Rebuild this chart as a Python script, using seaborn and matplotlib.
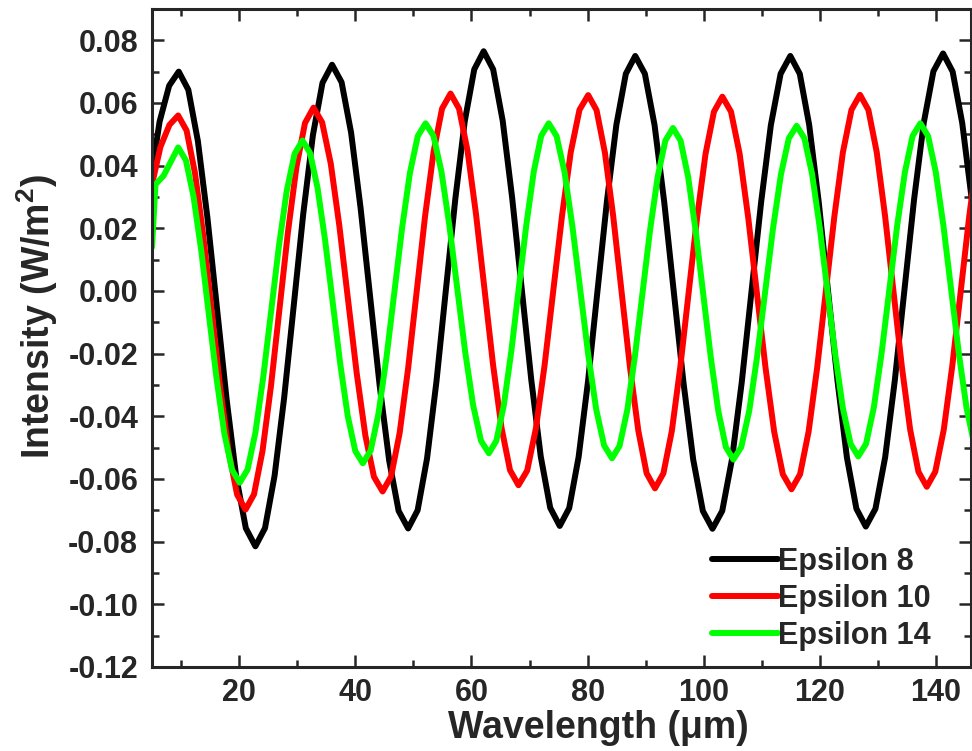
import pandas as pd
import matplotlib
matplotlib.use("Agg")
import matplotlib.pyplot as plt
import seaborn as sns

# values (x in um, intensity in W/m^2)
eps8_x = [5.0, 6.3, 7.95, 9.6, 11.25, 12.9, 14.55, 16.2, 17.85, 19.5, 21.15, 22.8,
          24.45, 26.1, 27.75, 29.4, 31.05, 32.7, 34.35, 36.0,
          37.64, 39.28, 40.91, 42.55, 44.19, 45.83, 47.46, 49.1,
          50.73, 52.35, 53.98, 55.6, 57.23, 58.85, 60.48, 62.1,
          63.74, 65.38, 67.01, 68.65, 70.29, 71.93, 73.56, 75.2,
          76.83, 78.45, 80.08, 81.7, 83.33, 84.95, 86.58, 88.2,
          89.86, 91.53, 93.19, 94.85, 96.51, 98.18, 99.84, 101.5,
          103.18, 104.85, 106.53, 108.2, 109.88, 111.55, 113.23, 114.9,
          116.53, 118.15, 119.78, 121.4, 123.03, 124.65, 126.28, 127.9,
          129.56, 131.23, 132.89, 134.55, 136.21, 137.88, 139.54, 141.2,
          142.85, 144.5, 146.15]
eps8_y = [0.038, 0.054, 0.0655, 0.0700, 0.0642, 0.0478, 0.0232, -0.0058, -0.0347, -0.0593, -0.0757, -0.0815,
          -0.0757, -0.0590, -0.0341, -0.0047, 0.0248, 0.0497, 0.0664, 0.0722,
          0.0666, 0.0505, 0.0265, -0.0018, -0.0301, -0.0541, -0.0702, -0.0758,
          -0.0700, -0.0535, -0.0288, 0.0004, 0.0295, 0.0542, 0.0707, 0.0765,
          0.0707, 0.0543, 0.0297, 0.0008, -0.0282, -0.0528, -0.0692, -0.0750,
          -0.0693, -0.0530, -0.0287, 0.0000, 0.0287, 0.0530, 0.0693, 0.0750,
          0.0693, 0.0529, 0.0284, -0.0005, -0.0293, -0.0538, -0.0702, -0.0759,
          -0.0702, -0.0538, -0.0293, -0.0005, 0.0284, 0.0529, 0.0693, 0.0750,
          0.0693, 0.0530, 0.0286, -0.0001, -0.0288, -0.0532, -0.0695, -0.0752,
          -0.0695, -0.0531, -0.0286, 0.0003, 0.0292, 0.0537, 0.0701, 0.0758,
          0.0700, 0.0536, 0.0291]

eps10_x = [5.0, 6.45, 8.0, 9.5, 10.95, 12.4, 13.85, 15.3, 16.75, 18.2, 19.65, 21.1,
           22.56, 24.03, 25.49, 26.95, 28.41, 29.88, 31.34, 32.8,
           34.29, 35.78, 37.26, 38.75, 40.24, 41.73, 43.21, 44.7,
           46.16, 47.63, 49.09, 50.55, 52.01, 53.48, 54.94, 56.4,
           57.86, 59.33, 60.79, 62.25, 63.71, 65.18, 66.64, 68.1,
           69.6, 71.1, 72.6, 74.1, 75.6, 77.1, 78.6, 80.1,
           81.54, 82.98, 84.41, 85.85, 87.29, 88.73, 90.16, 91.6,
           93.05, 94.5, 95.95, 97.4, 98.85, 100.3, 101.75, 103.2,
           104.69, 106.18, 107.66, 109.15, 110.64, 112.13, 113.61, 115.1,
           116.58, 118.05, 119.53, 121.0, 122.48, 123.95, 125.43, 126.9,
           128.34, 129.78, 131.21, 132.65, 134.09, 135.53, 136.96, 138.4,
           139.86, 141.33, 142.79, 144.25, 145.71, 147.18]
eps10_y = [0.034, 0.046, 0.053, 0.0560, 0.0512, 0.0376, 0.0172, -0.0069, -0.0310, -0.0514, -0.0650, -0.0698,
           -0.0649, -0.0510, -0.0302, -0.0057, 0.0189, 0.0397, 0.0536, 0.0585,
           0.0538, 0.0406, 0.0207, -0.0028, -0.0262, -0.0461, -0.0593, -0.0640,
           -0.0592, -0.0454, -0.0248, -0.0005, 0.0238, 0.0444, 0.0582, 0.0630,
           0.0582, 0.0447, 0.0244, 0.0005, -0.0234, -0.0437, -0.0572, -0.0620,
           -0.0573, -0.0438, -0.0236, 0.0003, 0.0241, 0.0443, 0.0578, 0.0625,
           0.0577, 0.0441, 0.0238, -0.0003, -0.0243, -0.0446, -0.0582, -0.0630,
           -0.0582, -0.0447, -0.0244, -0.0005, 0.0234, 0.0437, 0.0572, 0.0620,
           0.0572, 0.0437, 0.0233, -0.0007, -0.0246, -0.0450, -0.0585, -0.0633,
           -0.0585, -0.0449, -0.0244, -0.0004, 0.0237, 0.0442, 0.0578, 0.0626,
           0.0578, 0.0443, 0.0240, 0.0001, -0.0239, -0.0442, -0.0577, -0.0625,
           -0.0577, -0.0442, -0.0239, 0.0000, 0.0239, 0.0442]

eps14_x = [5.0, 5.6, 7.0, 9.5, 10.83, 12.15, 13.48, 14.8, 16.13, 17.45, 18.78, 20.1,
           21.45, 22.8, 24.15, 25.5, 26.85, 28.2, 29.55, 30.9,
           32.2, 33.5, 34.8, 36.1, 37.4, 38.7, 40.0, 41.3,
           42.65, 44.0, 45.35, 46.7, 48.05, 49.4, 50.75, 52.1,
           53.46, 54.83, 56.19, 57.55, 58.91, 60.28, 61.64, 63.0,
           64.29, 65.58, 66.86, 68.15, 69.44, 70.73, 72.01, 73.3,
           74.66, 76.03, 77.39, 78.75, 80.11, 81.48, 82.84, 84.2,
           85.51, 86.83, 88.14, 89.45, 90.76, 92.08, 93.39, 94.7,
           96.0, 97.3, 98.6, 99.9, 101.2, 102.5, 103.8, 105.1,
           106.46, 107.83, 109.19, 110.55, 111.91, 113.28, 114.64, 116.0,
           117.33, 118.65, 119.98, 121.3, 122.63, 123.95, 125.28, 126.6,
           127.94, 129.28, 130.61, 131.95, 133.29, 134.63, 135.96, 137.3,
           138.63, 139.95, 141.28, 142.6, 143.93, 145.25, 146.58]
eps14_y = [0.014, 0.034, 0.0368, 0.0458, 0.0417, 0.0301, 0.0128, -0.0077, -0.0282, -0.0455, -0.0571, -0.0612,
           -0.0570, -0.0452, -0.0275, -0.0066, 0.0143, 0.0320, 0.0438, 0.0480,
           0.0441, 0.0329, 0.0162, -0.0035, -0.0232, -0.0399, -0.0511, -0.0550,
           -0.0509, -0.0391, -0.0215, -0.0008, 0.0200, 0.0376, 0.0494, 0.0535,
           0.0495, 0.0381, 0.0210, 0.0009, -0.0193, -0.0364, -0.0478, -0.0518,
           -0.0478, -0.0364, -0.0193, 0.0009, 0.0210, 0.0381, 0.0495, 0.0535,
           0.0494, 0.0379, 0.0205, 0.0001, -0.0204, -0.0378, -0.0493, -0.0534,
           -0.0494, -0.0380, -0.0209, -0.0007, 0.0195, 0.0366, 0.0480, 0.0520,
           0.0480, 0.0365, 0.0193, -0.0009, -0.0211, -0.0383, -0.0498, -0.0538,
           -0.0498, -0.0382, -0.0209, -0.0006, 0.0198, 0.0371, 0.0487, 0.0527,
           0.0487, 0.0373, 0.0201, -0.0001, -0.0202, -0.0374, -0.0488, -0.0528,
           -0.0488, -0.0372, -0.0200, 0.0004, 0.0207, 0.0379, 0.0495, 0.0535,
           0.0494, 0.0379, 0.0206, 0.0003, -0.0201, -0.0374, -0.0490]

labels = ["Epsilon 8", "Epsilon 10", "Epsilon 14"]
colors = ["#000000", "#ff0000", "#00ff00"]
xticks = [20, 40, 60, 80, 100, 120, 140]
yticks = [-0.12, -0.10, -0.08, -0.06, -0.04, -0.02, 0.00, 0.02, 0.04, 0.06, 0.08]

df = pd.concat([
    pd.DataFrame({"Wavelength": eps8_x, "Intensity": eps8_y, "series": labels[0]}),
    pd.DataFrame({"Wavelength": eps10_x, "Intensity": eps10_y, "series": labels[1]}),
    pd.DataFrame({"Wavelength": eps14_x, "Intensity": eps14_y, "series": labels[2]}),
])

sns.set_style("ticks")
plt.rcParams["font.family"] = ["Liberation Sans", "DejaVu Sans"]
plt.rcParams["font.weight"] = "bold"
plt.rcParams["axes.unicode_minus"] = False
plt.rcParams["mathtext.fontset"] = "custom"
plt.rcParams["mathtext.bf"] = "Liberation Sans:bold"
plt.rcParams["mathtext.rm"] = "Liberation Sans:bold"

fig = plt.figure(figsize=(9.72, 7.51), dpi=100)
ax = fig.add_axes([0.1564, 0.1119, 0.8425, 0.8762])

sns.lineplot(data=df, x="Wavelength", y="Intensity", hue="series",
             hue_order=labels, palette=dict(zip(labels, colors)),
             linewidth=4.3, estimator=None, ax=ax)

ax.set_xlim(5, 146)
ax.set_ylim(-0.12, 0.09)
ax.set_xticks(xticks)
ax.set_yticks(yticks)
ax.set_yticklabels([f"{v:.2f}" for v in yticks])
ax.xaxis.set_minor_locator(matplotlib.ticker.MultipleLocator(10))
ax.yaxis.set_minor_locator(matplotlib.ticker.MultipleLocator(0.01))
ax.tick_params(which="both", direction="in", top=True, right=True, width=1.8)
ax.tick_params(which="major", length=8.5, labelsize=22)
ax.tick_params(axis="y", which="major", pad=10)
ax.tick_params(axis="x", which="major", pad=8)
ax.tick_params(which="minor", length=5)
for lab in ax.get_xticklabels() + ax.get_yticklabels():
    lab.set_fontweight("bold")
for sp in ax.spines.values():
    sp.set_linewidth(2.2)

ax.set_xlabel("Wavelength (\u03bcm)", fontsize=27, fontweight="bold")
ax.set_ylabel("Intensity (W/m$^{2}$)", fontsize=27, fontweight="bold")
ax.xaxis.set_label_coords(0.545, -0.065)
ax.yaxis.set_label_coords(-0.112, 0.532)

handles, labs = ax.get_legend_handles_labels()
leg = ax.legend(handles, labs, loc="upper left", bbox_to_anchor=(0.684, 0.183),
                frameon=False, borderpad=0, borderaxespad=0, handlelength=2.15,
                handletextpad=0.0, labelspacing=0.23,
                prop={"size": 22, "weight": "bold"})
for h in leg.get_lines():
    h.set_linewidth(4.3)

fig.savefig("out.png", dpi=100)
